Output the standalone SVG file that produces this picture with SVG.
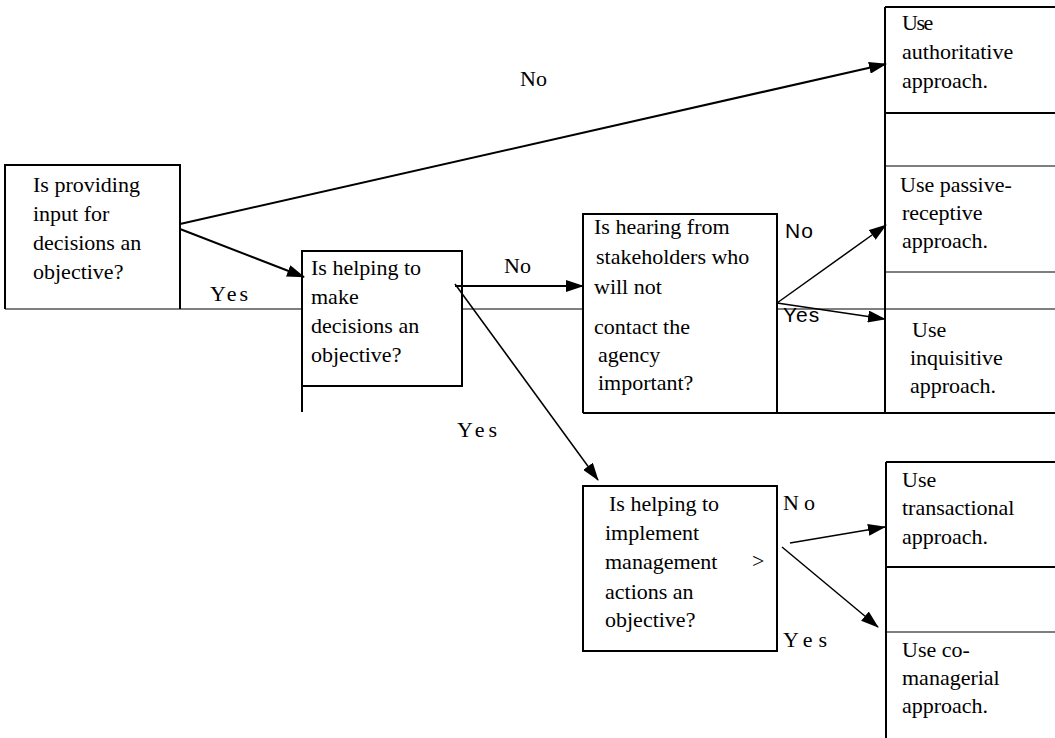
<svg xmlns="http://www.w3.org/2000/svg" width="1055" height="738" viewBox="0 0 1055 738">
<style>
  text { fill: #000; }
  .b { stroke: #000; stroke-width: 2; fill: none; }
  .th { stroke: #000; stroke-width: 1.2; fill: none; }
  .c { stroke: #000; stroke-width: 2; fill: none; marker-end: url(#ah); }
  .c1 { stroke: #000; stroke-width: 1.5; fill: none; marker-end: url(#ah); }
</style>
<defs>
  <marker id="ah" markerUnits="userSpaceOnUse" markerWidth="18" markerHeight="12" refX="17" refY="6" orient="auto">
    <path d="M0,0 L18,6 L0,12 z" fill="#000"/>
  </marker>
</defs>
<rect width="1055" height="738" fill="#fff"/>

<g id="table-lines">
  <path class="th" d="M5,309 H302 M462,309 H583 M777,309 H1055"/>
  <path class="b" d="M302,386 V412"/>
  <path class="b" d="M885,7 V413 M885,7 H1055"/>
  <path class="b" d="M885,113 H1055"/>
  <path class="th" d="M885,166 H1055 M885,272 H1055"/>
  <path class="b" d="M583,413 H1055"/>
  <path class="b" d="M886,462 V738 M886,462 H1055 M886,567 H1055"/>
  <path class="th" d="M886,632 H1055"/>
</g>

<g font-family="Liberation Serif, Times New Roman, serif" font-size="22">
<g id="node-input">
  <path class="b" d="M5,309 V165 H180 V309"/>
  <text><tspan x="33" y="192">Is providing</tspan><tspan x="33" y="221">input for</tspan><tspan x="33" y="250">decisions an</tspan><tspan x="33" y="279">objective?</tspan></text>
</g>

<g id="node-make">
  <rect class="b" x="302" y="251" width="160" height="135"/>
  <text><tspan x="311" y="275">Is helping to</tspan><tspan x="311" y="304">make</tspan><tspan x="311" y="333">decisions an</tspan><tspan x="311" y="362">objective?</tspan></text>
</g>

<g id="node-hearing">
  <path class="b" d="M583,413 V214 H777 V413"/>
  <text><tspan x="594" y="234">Is hearing from</tspan><tspan x="596" y="264">stakeholders who</tspan><tspan x="594" y="294">will not</tspan><tspan x="594" y="334">contact the</tspan><tspan x="598" y="362">agency</tspan><tspan x="598" y="390">important?</tspan></text>
</g>

<g id="node-implement">
  <rect class="b" x="583" y="486" width="194" height="165"/>
  <text><tspan x="609" y="511">Is helping to</tspan><tspan x="605" y="540">implement</tspan><tspan x="605" y="569">management</tspan><tspan x="605" y="599">actions an</tspan><tspan x="605" y="627">objective?</tspan></text>
  <text x="752" y="568">&gt;</text>
</g>

<g id="node-authoritative">
  <text><tspan x="902" y="30" letter-spacing="-1.5">Use</tspan><tspan x="902" y="59">authoritative</tspan><tspan x="902" y="88">approach.</tspan></text>
</g>

<g id="node-passive">
  <text><tspan x="900" y="192">Use passive-</tspan><tspan x="902" y="220">receptive</tspan><tspan x="902" y="248">approach.</tspan></text>
</g>

<g id="node-inquisitive">
  <text><tspan x="912" y="337">Use</tspan><tspan x="910" y="365">inquisitive</tspan><tspan x="910" y="393">approach.</tspan></text>
</g>

<g id="node-transactional">
  <text><tspan x="902" y="487">Use</tspan><tspan x="902" y="515">transactional</tspan><tspan x="902" y="544">approach.</tspan></text>
</g>

<g id="node-comanagerial">
  <text><tspan x="902" y="657">Use co-</tspan><tspan x="902" y="685">managerial</tspan><tspan x="902" y="713">approach.</tspan></text>
</g>

<g id="labels">
  <text x="520" y="86">No</text>
  <text x="210" y="301" letter-spacing="3">Yes</text>
  <text x="504" y="273">No</text>
  <text x="457" y="437" letter-spacing="4">Yes</text>
  <text x="783" y="510" letter-spacing="5">No</text>
  <text x="783" y="647" letter-spacing="6">Yes</text>
  <text x="785" y="238" font-family="Liberation Sans, Arial, sans-serif" font-size="21" letter-spacing="1">No</text>
  <text x="783" y="322" font-family="Liberation Sans, Arial, sans-serif" font-size="21" letter-spacing="1">Yes</text>
</g>
</g>

<g id="connectors">
  <line class="c" x1="180" y1="224" x2="886" y2="64"/>
  <line class="c" x1="180" y1="229" x2="304" y2="277"/>
  <line class="c" x1="455" y1="286" x2="583" y2="286"/>
  <line class="c1" x1="455" y1="284" x2="598" y2="480"/>
  <line class="c1" x1="777" y1="303" x2="886" y2="225"/>
  <line class="c1" x1="777" y1="303" x2="885" y2="319"/>
  <line class="c1" x1="790" y1="543" x2="885" y2="527"/>
  <line class="c1" x1="782" y1="547" x2="878" y2="627"/>
</g>
</svg>
